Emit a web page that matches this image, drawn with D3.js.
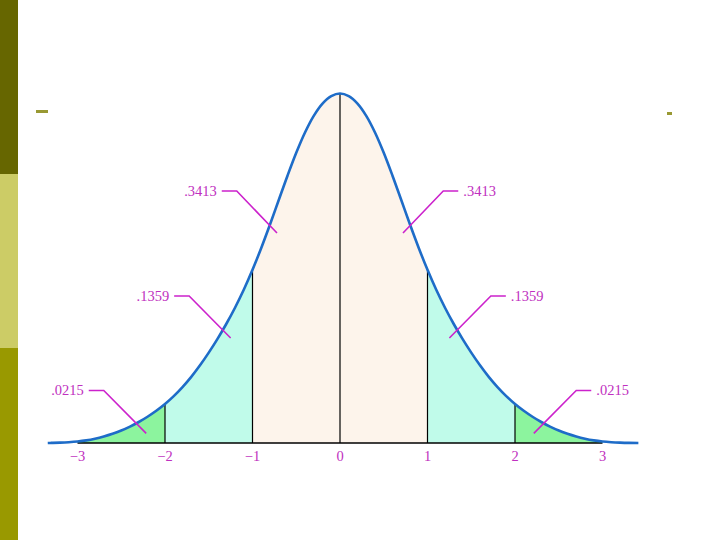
<!DOCTYPE html>
<html>
<head>
<meta charset="utf-8">
<script src="https://cdn.jsdelivr.net/npm/d3@7"></script>
<style>
  html, body { margin: 0; padding: 0; background: #ffffff; }
  svg { display: block; }
</style>
</head>
<body>
<svg id="chart" width="720" height="540"></svg>
<script>
// ---- data ----
const tickValues = [-3, -2, -1, 0, 1, 2, 3];
const tickLabels = ["\u22123", "\u22122", "\u22121", "0", "1", "2", "3"];

// curve samples: z and density height
const curveZ = [
  -3.34, -3.3, -3.2, -3.1, -3.0, -2.9, -2.8, -2.7, -2.6, -2.5, -2.4, -2.3, -2.2, -2.1, -2.0,
  -1.9, -1.8, -1.7, -1.6, -1.5, -1.4, -1.3, -1.2, -1.1, -1.0, -0.9, -0.8, -0.7, -0.6,
  -0.5, -0.4, -0.3, -0.2, -0.1, 0,
  0.1, 0.2, 0.3, 0.4, 0.5, 0.6, 0.7, 0.8, 0.9, 1.0, 1.1, 1.2, 1.3, 1.4,
  1.5, 1.6, 1.7, 1.8, 1.9, 2.0, 2.1, 2.2, 2.3, 2.4, 2.5, 2.6, 2.7, 2.8,
  2.9, 3.0, 3.1, 3.2, 3.3, 3.41
];
const curveDensity = [
  0, 0.0001, 0.0004, 0.0009, 0.0017, 0.0030, 0.0049, 0.0074, 0.0105, 0.0143, 0.0188, 0.0240, 0.0300, 0.0368, 0.0446,
  0.0536, 0.0639, 0.0756, 0.0888, 0.1033, 0.1190, 0.1360, 0.1546, 0.1751, 0.1979, 0.2229, 0.2497, 0.2777, 0.3055,
  0.3317, 0.3549, 0.3739, 0.3879, 0.3964, 0.3994,
  0.3964, 0.3879, 0.3739, 0.3549, 0.3317, 0.3055, 0.2777, 0.2497, 0.2229, 0.1979, 0.1751, 0.1546, 0.1360, 0.1190,
  0.1033, 0.0888, 0.0756, 0.0639, 0.0536, 0.0446, 0.0368, 0.0300, 0.0240, 0.0188, 0.0143, 0.0105, 0.0074, 0.0049,
  0.0030, 0.0017, 0.0009, 0.0004, 0.0001, 0
];

// shaded bands
const bandStart = [-3, -2, -1, 1, 2];
const bandEnd   = [-2, -1, 1, 2, 3];
const bandKind  = ["tail", "mid", "center", "mid", "tail"];

const dividers = [-2, -1, 0, 1, 2];

// callouts: label, tip (z, density), elbow (z, density)
const calloutLabels = [".3413", ".3413", ".1359", ".1359", ".0215", ".0215"];
const calloutTipZ   = [-0.72, 0.72, -1.25, 1.25, -2.215, 2.215];
const calloutTipD   = [0.240, 0.240, 0.120, 0.120, 0.011, 0.011];
const calloutElbowZ = [-1.18, 1.18, -1.724, 1.724, -2.70, 2.70];
const calloutElbowD = [0.288, 0.288, 0.168, 0.168, 0.060, 0.060];

// ---- layout / style ----
const svg = d3.select("#chart");
const colors = { tail: "#8CF49E", mid: "#C0FBEA", center: "#FDF4EB" };

const x = d3.scaleLinear().domain([-3, 3]).range([77.5, 602.5]);
const y = d3.scaleLinear().domain([0, 0.4]).range([443, 93]);

// left sidebar
const sideStops = [0, 174, 348, 540];
const sideColors = ["#666600", "#CCCC66", "#999900"];
svg.selectAll("rect.side").data(sideColors).enter().append("rect")
  .attr("class", "side")
  .attr("x", 0).attr("width", 18)
  .attr("y", (d, i) => sideStops[i])
  .attr("height", (d, i) => sideStops[i + 1] - sideStops[i])
  .attr("fill", d => d);

// small bullet dashes
svg.append("rect").attr("x", 36).attr("y", 110).attr("width", 12).attr("height", 3).attr("fill", "#999933");
svg.append("rect").attr("x", 667).attr("y", 112).attr("width", 5).attr("height", 3).attr("fill", "#999933");

const pts = curveZ.map((z, i) => [z, curveDensity[i]]);
const curveType = d3.curveCatmullRom.alpha(0.5);

const area = d3.area()
  .x(d => x(d[0]))
  .y0(y(0))
  .y1(d => y(d[1]))
  .curve(curveType);

const line = d3.line()
  .x(d => x(d[0]))
  .y(d => y(d[1]))
  .curve(curveType);

const defs = svg.append("defs");
defs.append("clipPath").attr("id", "under")
  .append("path").attr("d", area(pts));

const g = svg.append("g").attr("clip-path", "url(#under)");

// bands
g.selectAll("rect.band").data(bandStart).enter().append("rect")
  .attr("class", "band")
  .attr("x", (d) => x(d))
  .attr("width", (d, i) => x(bandEnd[i]) - x(d))
  .attr("y", y(0.4) - 5)
  .attr("height", y(0) - y(0.4) + 5)
  .attr("fill", (d, i) => colors[bandKind[i]]);

// divider lines
g.selectAll("line.div").data(dividers).enter().append("line")
  .attr("x1", d => x(d)).attr("x2", d => x(d))
  .attr("y1", y(0)).attr("y2", y(0.4) - 5)
  .attr("stroke", "#000").attr("stroke-width", 1.2);

// baseline
svg.append("line")
  .attr("x1", x(-3)).attr("x2", x(3))
  .attr("y1", y(0)).attr("y2", y(0))
  .attr("stroke", "#000").attr("stroke-width", 1.5);

// curve
svg.append("path")
  .attr("d", line(pts))
  .attr("fill", "none")
  .attr("stroke", "#1E6CC8")
  .attr("stroke-width", 2.6);

// tick labels
svg.selectAll("text.tick").data(tickValues).enter().append("text")
  .attr("x", d => x(d))
  .attr("y", 461)
  .attr("text-anchor", "middle")
  .attr("font-family", "'Liberation Serif', 'DejaVu Serif', serif")
  .attr("font-size", 14.5)
  .attr("fill", "#C030C0")
  .text((d, i) => tickLabels[i]);

// callouts
const magenta = "#CC22CC";
calloutLabels.forEach((lab, i) => {
  const side = calloutElbowZ[i] < 0 ? -1 : 1;
  const ex = x(calloutElbowZ[i]), ey = y(calloutElbowD[i]);
  const tx = x(calloutTipZ[i]), ty = y(calloutTipD[i]);
  const hx = ex + side * 15;
  svg.append("path")
    .attr("d", `M${tx},${ty}L${ex},${ey}L${hx},${ey}`)
    .attr("fill", "none")
    .attr("stroke", magenta)
    .attr("stroke-width", 1.6);
  svg.append("text")
    .attr("x", hx + side * 5)
    .attr("y", ey + 4.5)
    .attr("text-anchor", side < 0 ? "end" : "start")
    .attr("font-family", "'Liberation Serif', 'DejaVu Serif', serif")
    .attr("font-size", 14.5)
    .attr("fill", "#C030C0")
    .text(lab);
});
</script>
</body>
</html>
